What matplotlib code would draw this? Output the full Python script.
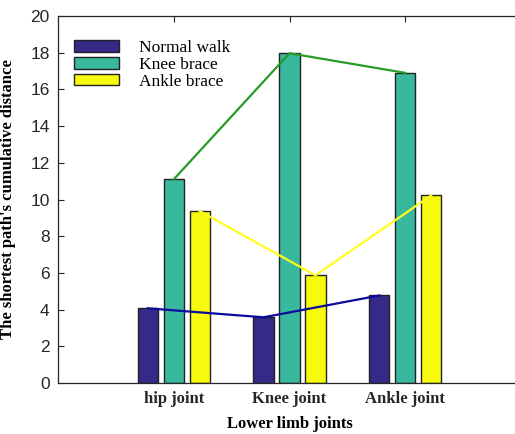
import matplotlib.pyplot as plt
import numpy as np

joints = ['hip joint', 'Knee joint', 'Ankle joint']
series_names = ['Normal walk', 'Knee brace', 'Ankle brace']
normal_walk = [4.07, 3.58, 4.77]
knee_brace = [11.1, 17.97, 16.9]
ankle_brace = [9.37, 5.87, 10.22]

bar_colors = ['#352a87', '#38b99e', '#f8fa0d']
line_colors = ['#0a0a9c', '#289a28', '#ffff20']

fig = plt.figure(figsize=(5.15, 4.34), dpi=100)
ax = fig.add_axes([58 / 515, 51 / 434, 463 / 515, 367 / 434])

x = np.arange(1, len(joints) + 1)
offset = 0.224
width = 0.175
values = [normal_walk, knee_brace, ankle_brace]
for i, (vals, name) in enumerate(zip(values, series_names)):
    xs = x + (i - 1) * offset
    ax.bar(xs, vals, width, color=bar_colors[i], edgecolor='#222222',
           linewidth=1.0, label=name, zorder=2)
for i, vals in enumerate(values):
    xs = x + (i - 1) * offset
    ax.plot(xs, vals, color=line_colors[i], linewidth=1.6, zorder=3)

ax.set_xlim(0, 4)
ax.set_ylim(0, 20)
ax.set_yticks(np.arange(0, 21, 2))
ax.set_xticks(x)
ax.set_xticklabels(joints, fontfamily='Liberation Serif', fontweight='bold', fontsize=12)
for lab in ax.get_yticklabels():
    lab.set_fontfamily('Liberation Sans')
    lab.set_fontsize(12.5)
ax.tick_params(axis='both', direction='in', colors='#262626', length=4, width=0.8)
ax.tick_params(axis='x', top=True, pad=6, length=4)
ax.tick_params(axis='y', pad=6)
for s in ax.spines.values():
    s.set_color('#262626')
    s.set_linewidth(0.9)

ax.set_xlabel('Lower limb joints', fontfamily='Liberation Serif', fontweight='bold',
              fontsize=12, labelpad=6.5)
ax.set_ylabel("The shortest path's cumulative distance", fontfamily='Liberation Serif',
              fontweight='bold', fontsize=12, labelpad=10)

leg = ax.legend(loc='upper left', bbox_to_anchor=(0.011, 0.963), frameon=False,
                prop={'family': 'Liberation Serif', 'size': 12.5},
                handlelength=2.6, handleheight=0.65, handletextpad=1.15,
                labelspacing=0.05, borderaxespad=0.2)

fig.savefig('out.png', dpi=100)
